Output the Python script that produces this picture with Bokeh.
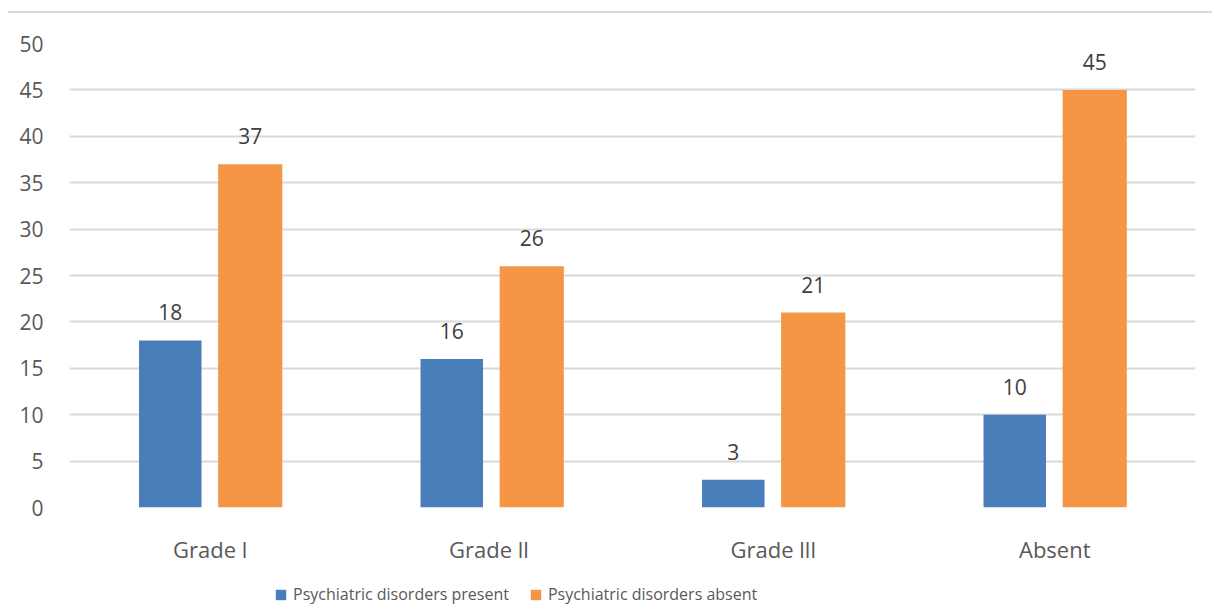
from bokeh.plotting import figure
from bokeh.models import ColumnDataSource, FactorRange, Legend, LegendItem, Range1d, Div
from bokeh.layouts import column
from bokeh.transform import dodge
from bokeh.core.properties import value
from bokeh.embed import file_html
from bokeh.resources import INLINE

categories = ["Grade l", "Grade  ll", "Grade lll", "Absent"]
present = [18, 16, 3, 10]
absent = [37, 26, 21, 45]
series_names = ["Psychiatric disorders present", "Psychiatric disorders absent"]
y_ticks = [0, 5, 10, 15, 20, 25, 30, 35, 40, 45, 50]

BLUE = "#4a7ebb"
ORANGE = "#f59646"
FONT = "Open Sans"

src = ColumnDataSource(dict(
    cat=categories,
    present=present,
    absent=absent,
    present_txt=[str(v) for v in present],
    absent_txt=[str(v) for v in absent],
))

p = figure(
    x_range=FactorRange(*categories),
    y_range=Range1d(0, 50),
    width=1206, height=561,
    output_backend="svg", toolbar_location=None,
    min_border_left=69, min_border_right=11,
    min_border_top=30, min_border_bottom=67,
)
p.x_range.range_padding = 0
p.outline_line_color = None
p.background_fill_color = "white"
p.border_fill_color = "white"

r1 = p.vbar(x=dodge("cat", -0.142, range=p.x_range), top="present", width=0.222,
            source=src, color=BLUE, line_color=None)
r2 = p.vbar(x=dodge("cat", 0.142, range=p.x_range), top="absent", width=0.228,
            source=src, color=ORANGE, line_color=None)

for col, off in (("present", -0.142), ("absent", 0.142)):
    p.text(x=dodge("cat", off, range=p.x_range), y=col, text=col + "_txt", source=src,
           text_align="center", text_baseline="middle", y_offset=-28,
           text_font=value(FONT), text_font_size="21px", text_color="#404040")

p.yaxis.ticker = y_ticks
p.ygrid.grid_line_color = "#d9d9d9"
p.ygrid.grid_line_width = 2
p.xgrid.grid_line_color = None

for ax in (p.xaxis[0], p.yaxis[0]):
    ax.axis_line_color = None
    ax.major_tick_line_color = None
    ax.minor_tick_line_color = None
    ax.major_tick_in = 0
    ax.major_tick_out = 0
    ax.major_label_text_font = FONT
    ax.major_label_text_color = "#595959"
p.yaxis.major_label_text_font_size = "21px"
p.xaxis.major_label_text_font_size = "22px"
p.yaxis.major_label_standoff = 26
p.xaxis.major_label_standoff = 26

# legend strip: a separate small figure (frame-aligned by the column layout)
pl = figure(width=1206, height=34, x_range=p.x_range, y_range=Range1d(0, 50),
            output_backend="svg", toolbar_location=None,
            min_border_left=0, min_border_right=0, min_border_top=0, min_border_bottom=0,
            x_axis_location=None, y_axis_location=None)
pl.outline_line_color = None
pl.grid.grid_line_color = None
l1 = pl.vbar(x=dodge("cat", -0.142, range=p.x_range), top="present", width=0.222,
             source=src, color=BLUE, line_color=None, visible=False)
l2 = pl.vbar(x=dodge("cat", 0.142, range=p.x_range), top="absent", width=0.228,
             source=src, color=ORANGE, line_color=None, visible=False)

legend = Legend(items=[LegendItem(label=series_names[0], renderers=[l1]),
                       LegendItem(label=series_names[1], renderers=[l2])],
                orientation="horizontal", location=(205, 3),
                glyph_width=13, glyph_height=13, label_standoff=6, spacing=20,
                label_text_font=FONT, label_text_font_size="16px",
                label_text_color="#595959", border_line_color=None,
                background_fill_alpha=0, padding=0, margin=0,
                inactive_fill_alpha=0, click_policy="none")
pl.add_layout(legend, "center")

top_line = Div(text="", width=1204, height=2, margin=(11, 0, 0, 8),
               styles={"background-color": "#d9d9d9"})
layout = column(top_line, p, pl, spacing=0)

open("out.html", "w").write(file_html(layout, INLINE))
